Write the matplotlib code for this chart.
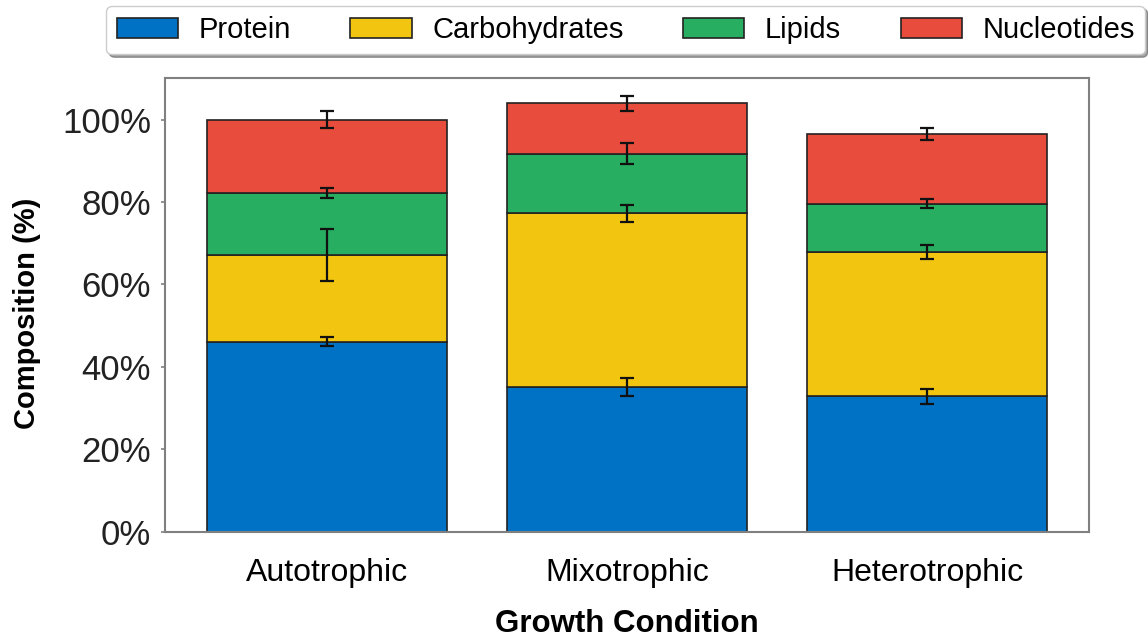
import matplotlib.pyplot as plt
import numpy as np
from matplotlib.ticker import PercentFormatter

plt.rcParams['font.family'] = ['Liberation Sans', 'DejaVu Sans']

# Data (segment heights, % composition)
conditions = ['Autotrophic', 'Mixotrophic', 'Heterotrophic']
components = ['Protein', 'Carbohydrates', 'Lipids', 'Nucleotides']
protein = [46.1, 35.2, 32.9]
carbohydrates = [21.0, 42.0, 35.0]
lipids = [15.1, 14.5, 11.7]
nucleotides = [17.8, 12.2, 17.0]
protein_err = [1.1, 2.2, 1.8]
carbohydrates_err = [6.3, 2.1, 1.7]
lipids_err = [1.2, 2.6, 1.0]
nucleotides_err = [2.1, 1.9, 1.45]

seg_colors = ['#0072C6', '#F2C511', '#27AE60', '#E74C3C']

fig = plt.figure(figsize=(11.48, 6.44), dpi=100)
ax = fig.add_axes([0.1437, 0.1744, 0.8049, 0.704])

x = np.arange(len(conditions))
bottom = np.zeros(len(conditions))
handles = []
for name, vals, errs, col in zip(components,
                                 [protein, carbohydrates, lipids, nucleotides],
                                 [protein_err, carbohydrates_err, lipids_err, nucleotides_err],
                                 seg_colors):
    vals = np.array(vals)
    b = ax.bar(x, vals, 0.8, bottom=bottom, color=col, edgecolor='#222222',
               linewidth=1.2, label=name, zorder=2)
    handles.append(b)
    ax.errorbar(x, bottom + vals, yerr=errs, fmt='none', ecolor='#111111',
                elinewidth=1.6, capsize=5, capthick=1.6, zorder=3)
    bottom = bottom + vals

ax.set_xlim(-0.54, 2.54)
ax.set_ylim(0, 110)
ax.set_yticks([0, 20, 40, 60, 80, 100])
ax.yaxis.set_major_formatter(PercentFormatter(decimals=0))
ax.set_xticks(x)
ax.set_xticklabels(conditions, fontsize=23)
ax.tick_params(axis='y', labelsize=25, length=3, width=1.2, color='#808080',
               pad=7, labelcolor='#222222')
ax.tick_params(axis='x', length=0, pad=19)

for s in ax.spines.values():
    s.set_color('#808080')
    s.set_linewidth(1.5)

ax.set_ylabel('Composition (%)', fontsize=21, fontweight='bold')
ax.yaxis.set_label_coords(-0.134, 0.482)
ax.set_xlabel('Growth Condition', fontsize=22.5, fontweight='bold')
ax.xaxis.set_label_coords(0.5, -0.17)

fig.legend(handles=handles, labels=components, loc='center',
           bbox_to_anchor=(0.545, 0.953), ncol=4, fontsize=21, frameon=True,
           shadow=True, fancybox=True, edgecolor='#cccccc', handlelength=2.1,
           handleheight=0.7, handletextpad=0.7, columnspacing=2.05,
           borderpad=0.35)

plt.savefig('out.png', dpi=100)
